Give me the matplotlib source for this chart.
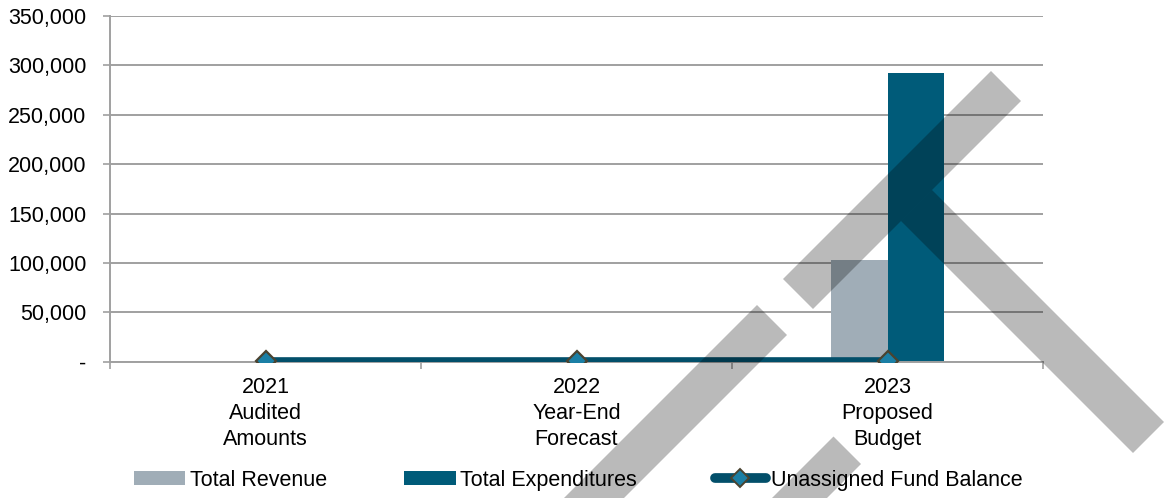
import matplotlib
matplotlib.use("Agg")
import matplotlib.pyplot as plt
from matplotlib.patches import Polygon, Patch
from matplotlib.lines import Line2D
from matplotlib.ticker import FuncFormatter, FixedLocator
import numpy as np

plt.rcParams['font.family'] = ['Liberation Sans', 'DejaVu Sans']

# ---- data ----
categories = ["2021\nAudited\nAmounts", "2022\nYear-End\nForecast", "2023\nProposed\nBudget"]
total_revenue = [0, 0, 103000]
total_expenditures = [0, 0, 292000]
unassigned_fund_balance = [1000, 1000, 1000]
legend_labels = ["Total Revenue", "Total Expenditures", "Unassigned Fund Balance"]
y_ticks = [0, 50000, 100000, 150000, 200000, 250000, 300000, 350000]

# ---- style ----
W, H = 1168, 498
c_rev = "#A0ADB7"
c_exp = "#005B79"
c_line = "#024F6A"
c_grid = "#A0A0A0"
fs = 15.5

fig = plt.figure(figsize=(W / 100, H / 100), dpi=100)
ax = fig.add_axes([110 / W, 1 - 361.7 / H, (1043 - 110) / W, 345.7 / H])

x = np.arange(len(categories))
bw = 0.183
ax.bar(x - bw / 2, total_revenue, width=bw, color=c_rev, zorder=2)
ax.bar(x + bw / 2, total_expenditures, width=bw, color=c_exp, zorder=2)
ax.plot(x, unassigned_fund_balance, color=c_line, lw=5.5, solid_capstyle='butt', zorder=3,
        marker='D', markersize=10.5, markerfacecolor="#1B7FA5", markeredgecolor="#4A4330",
        markeredgewidth=1.6)

ax.set_xlim(-0.5, 2.5)
ax.set_ylim(0, 350000)
ax.set_yticks(y_ticks)
ax.yaxis.set_major_formatter(FuncFormatter(lambda v, p: "-" if v == 0 else f"{int(v):,}"))
ax.grid(axis='y', color=c_grid, lw=1.4, zorder=1)
ax.set_axisbelow(True)

ax.set_xticks(x)
ax.set_xticklabels(categories, fontsize=fs, linespacing=1.3)
ax.tick_params(axis='x', which='major', length=0, pad=11)
ax.xaxis.set_minor_locator(FixedLocator([-0.5, 0.5, 1.5, 2.5]))
ax.tick_params(axis='x', which='minor', length=5, width=1.2, color=c_grid, direction='out')
ax.tick_params(axis='y', length=5, width=1.2, color=c_grid, labelsize=fs, pad=12)

for s in ['top', 'right']:
    ax.spines[s].set_visible(False)
for s in ['left', 'bottom']:
    ax.spines[s].set_color(c_grid)
    ax.spines[s].set_linewidth(1.4)

handles = [
    Patch(facecolor=c_rev, edgecolor='none'),
    Patch(facecolor=c_exp, edgecolor='none'),
    Line2D([0], [0], color=c_line, lw=7, solid_capstyle='round', marker='D', markersize=9,
           markerfacecolor="#1B7FA5", markeredgecolor="#4A4330", markeredgewidth=1.4),
]
fig.legend(handles, legend_labels, loc='center', bbox_to_anchor=(578 / W, 1 - 480 / H),
           ncol=3, frameon=False, fontsize=fs, handlelength=2.4, handleheight=0.65,
           handletextpad=0.2, columnspacing=3.6)

# ---- watermark (decorative diagonal bands, figure pixel coords) ----
def band(v0, v1, u0, u1):
    pts = []
    for v, u in [(v0, u0), (v0, u1), (v1, u1), (v1, u0)]:
        px, py = (v + u) / 2, (v - u) / 2
        pts.append((px / W, 1 - py / H))
    return Polygon(pts, closed=True, transform=fig.transFigure, facecolor='black',
                   alpha=0.27, edgecolor='none', zorder=10)

for v0, v1, u0, u1 in [(1062, 1122, 504, 920), (1062, 1122, -300, 452),
                       (1270, 1325, -300, 397), (1122, 1586, 680, 742)]:
    fig.add_artist(band(v0, v1, u0, u1))

fig.savefig("out.png", dpi=100)
